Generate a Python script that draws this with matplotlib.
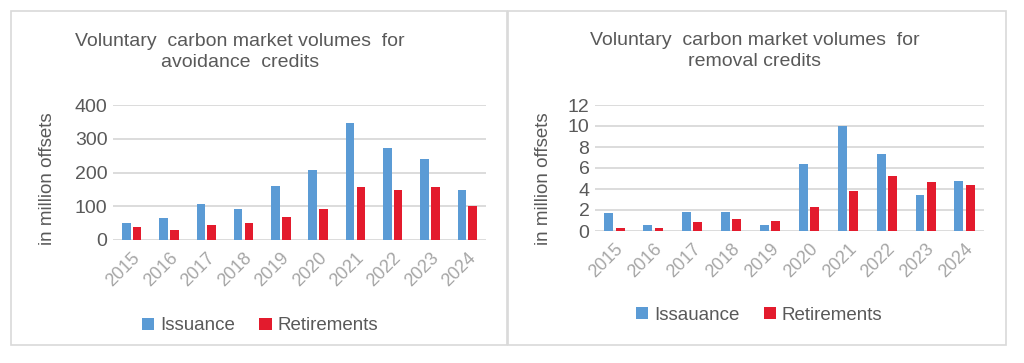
import numpy as np
import matplotlib.pyplot as plt
from matplotlib.patches import Rectangle

plt.rcParams['font.family'] = ['Liberation Sans', 'DejaVu Sans']

anos = ['2015', '2016', '2017', '2018', '2019', '2020', '2021', '2022', '2023', '2024']

# avoidance credits (million offsets)
evit_emissao = [51, 64, 108, 91, 161, 206, 347, 272, 241, 148]
evit_aposent = [38, 29, 43, 51, 69, 91, 157, 148, 157, 100]

# removal credits (million offsets)
rem_emissao = [1.67, 0.54, 1.8, 1.8, 0.54, 6.4, 10.0, 7.3, 3.4, 4.8]
rem_aposent = [0.28, 0.28, 0.82, 1.1, 0.98, 2.27, 3.85, 5.27, 4.7, 4.42]

azul = '#5B9BD5'
vermelho = '#E31B2D'
cinza_txt = '#595959'
cinza_tick = '#A6A6A6'
cinza_grade = '#D9D9D9'

fig = plt.figure(figsize=(10.24, 3.63), dpi=100)

# moldura dos dois paineis
for x0, x1 in [(11, 507), (508, 1006)]:
	fig.patches.append(Rectangle((x0 / 1024, 1 - 345 / 363), (x1 - x0) / 1024, 334 / 363,
		transform=fig.transFigure, fill=False, edgecolor=cinza_grade, lw=1.2))


def painel(pos, emissao, aposent, ymax, passo, titulo, tx, ty, lx, leg_x, leg_y, leg1):
	ax = fig.add_axes(pos)
	x = np.arange(len(anos))
	w = 0.23
	ax.bar(x - 0.145, emissao, w, color=azul, label=leg1, zorder=3)
	ax.bar(x + 0.145, aposent, w, color=vermelho, label='Retirements', zorder=3)
	ax.set_xlim(-0.5, len(anos) - 0.5)
	ax.set_ylim(0, ymax)
	ax.set_yticks(np.arange(0, ymax + passo / 2, passo))
	ax.grid(axis='y', color=cinza_grade, lw=1.3, zorder=0)
	for s in ax.spines.values():
		s.set_visible(False)
	ax.tick_params(axis='y', length=0, labelsize=14, labelcolor=cinza_txt, pad=4)
	ax.tick_params(axis='x', length=0, labelsize=13, labelcolor=cinza_tick, pad=7)
	ax.set_xticks(x)
	ax.set_xticklabels(anos, rotation=45, ha='right', rotation_mode='anchor')
	fig.text(tx / 1024, 1 - ty / 363, titulo, ha='center', va='center', fontsize=14,
		color=cinza_txt, linespacing=1.3)
	fig.text(lx / 1024, 1 - 179 / 363, 'in million offsets', rotation=90, ha='center',
		va='center', fontsize=13.5, color=cinza_txt)
	ax.legend(loc='center', bbox_to_anchor=(leg_x / 1024, 1 - leg_y / 363),
		bbox_transform=fig.transFigure, ncol=2, frameon=False, fontsize=13.5,
		handlelength=0.65, handleheight=0.65, handletextpad=0.3, columnspacing=1.3,
		labelcolor=cinza_txt)
	return ax


painel([113 / 1024, 1 - 240 / 363, 373 / 1024, 135 / 363], evit_emissao, evit_aposent, 400, 100,
	'Voluntary  carbon market volumes  for\navoidance  credits', 240, 52, 47, 260, 326, 'Issuance')
painel([595 / 1024, 1 - 231 / 363, 389 / 1024, 126 / 363], rem_emissao, rem_aposent, 12, 2,
	'Voluntary  carbon market volumes  for\nremoval credits', 755, 51, 544, 759, 315, 'Issauance')

fig.savefig('out.png', dpi=100)
